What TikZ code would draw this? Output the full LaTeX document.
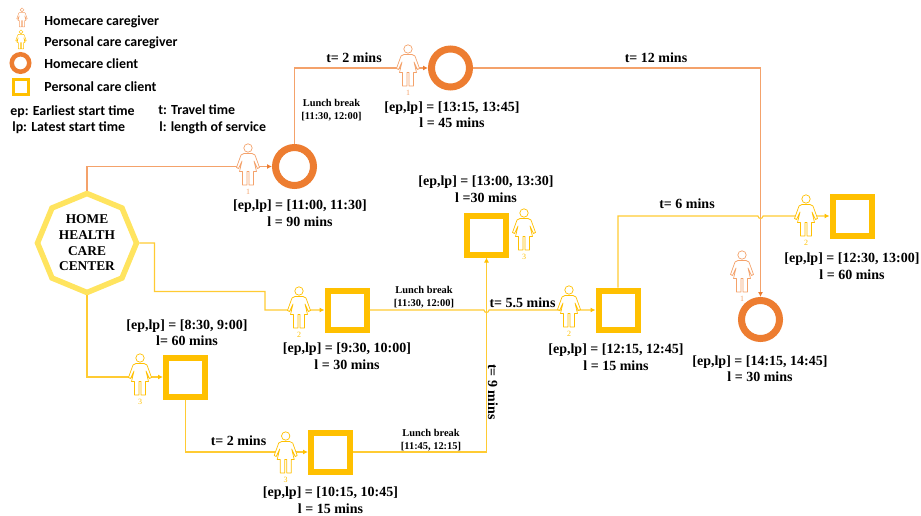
\documentclass[tikz,border=0pt]{standalone}
\usepackage{fontspec}
\setmainfont{Liberation Serif}
\newfontfamily\legendfont{Carlito}
\usetikzlibrary{arrows.meta, positioning, shapes.geometric}
\definecolor{homeorange}{HTML}{ED7D31}
\definecolor{homeline}{HTML}{F4A26B}
\definecolor{careyellow}{HTML}{FFC000}
\definecolor{careline}{HTML}{FFCB33}
\definecolor{centeryellow}{HTML}{FFE45F}
\tikzset{
  homeclient/.style={
    circle,
    draw=homeorange,
    fill=white,
    line width=7pt,
    inner sep=0pt,
    minimum size=38pt
  },
  careclient/.style={
    rectangle,
    draw=careyellow,
    fill=white,
    line width=6pt,
    inner sep=0pt,
    minimum size=39pt
  },
  centerbox/.style={
    regular polygon,
    regular polygon sides=8,
    shape border rotate=22.5,
    draw=centeryellow,
    line width=5.5pt,
    inner sep=0pt,
    minimum size=99pt,
    align=center,
    font=\fontsize{13.4}{15.7}\selectfont\bfseries
  },
  infolabel/.style={
    align=center,
    inner sep=0pt,
    font=\fontsize{14}{16.5}\selectfont\bfseries
  },
  travellabel/.style={
    inner sep=0pt,
    font=\fontsize{14}{16}\selectfont\bfseries
  },
  lunchlabel/.style={
    align=center,
    inner sep=0pt,
    font=\fontsize{10.4}{12.8}\selectfont\bfseries
  },
  legendlabel/.style={
    anchor=west,
    inner sep=0pt,
    font=\fontsize{13.9}{16}\selectfont\legendfont\bfseries
  },
  homeflow/.style={
    -{Latex[length=5pt,width=5pt,color=homeorange]},
    line width=1.1pt,
    draw=homeline
  },
  careflow/.style={
    -{Latex[length=5pt,width=5pt,color=careyellow]},
    line width=1.1pt,
    draw=careline
  },
  pics/caregiver/.style 2 args={
    code={
      \draw[draw=#1, fill=white] (0,-19) circle (4.2);
      \draw[draw=#1, fill=white, line join=round]
        (-4,-13.5) -- (-7,-12) -- (-11.5,0.5) -- (-9.5,1.5) -- (-6,-6) -- (-8.5,4.5)
        -- (-5.5,4.5) -- (-5.5,18) -- (-1,18) -- (-1,4.5) -- (1,4.5) -- (1,18)
        -- (5.5,18) -- (5.5,4.5) -- (8.5,4.5) -- (6,-6) -- (9.5,1.5) -- (11.5,0.5)
        -- (7,-12) -- (4,-13.5) -- cycle;
      \node[text=#1, inner sep=0pt, font=\fontsize{8}{9}\selectfont] (-num) at (0,25) {#2};
    }
  }
}

\begin{document}
\begin{tikzpicture}[x=1pt, y=-1pt, line width=0.7pt]

\useasboundingbox (0,0) rectangle (921,515);

% legend
\pic[scale=0.46, line width=0.45pt] (legendhome) at (22,18.6) {caregiver={homeline}{}};
\pic[scale=0.46, line width=0.45pt] (legendcare) at (21,40.5) {caregiver={careyellow}{}};
\node[homeclient, line width=4.5pt, minimum size=17.5pt] (legendcircle) at (20.5,63) {};
\node[careclient, line width=3pt, minimum size=15.5pt] (legendsquare) at (21,87) {};
\node[legendlabel] (legendA) at (44,21.5) {Homecare caregiver};
\node[legendlabel] (legendB) at (44,43) {Personal care caregiver};
\node[legendlabel] (legendC) at (44,64) {Homecare client};
\node[legendlabel] (legendD) at (44,86.5) {Personal care client};
\node[legendlabel] (legendE) at (10,111.5) {ep: Earliest start time};
\node[legendlabel] (legendF) at (12,128) {lp: Latest start time};
\node[legendlabel] (legendG) at (158,110) {t: Travel time};
\node[legendlabel] (legendH) at (159,128) {l: length of service};

% center and clients
\node[centerbox] (center) at (87,243) {HOME\\HEALTH\\CARE\\CENTER};
\node[homeclient] (hcA) at (294.5,166.5) {};
\node[homeclient] (hcB) at (450.5,68) {};
\node[homeclient] (hcC) at (760.5,319.5) {};
\node[careclient] (pcA) at (185.5,377) {};
\node[careclient] (pcB) at (347,310) {};
\node[careclient] (pcC) at (330.5,452) {};
\node[careclient] (pcD) at (486.5,235) {};
\node[careclient] (pcE) at (618,310) {};
\node[careclient] (pcF) at (852,216) {};

% connectors
\draw[homeflow] (center.north) |- (hcA.west);
\draw[homeflow] (hcA.north) |- (hcB.west);
\draw[homeflow] (hcB.east) -| (hcC.north);
\draw[careflow] (center.east) -- (154.5,243) |- (265,291.5) |- (pcB.west);
\draw[careflow] (center.south) |- (pcA.west);
\draw[careflow] (pcA.south) |- (pcC.west);
\draw[careflow] (pcC.east) -| (pcD.south);
\draw[careflow] (pcB.east) -- (484,310) arc[start angle=180, end angle=0, radius=2.5] -- (pcE.west);
\draw[careflow] (pcE.north) |- (758,216) arc[start angle=180, end angle=0, radius=2.5] -- (pcF.west);

% caregivers
\pic (cgA) at (248,167) {caregiver={homeline}{1}};
\pic (cgB) at (408,68) {caregiver={homeline}{1}};
\pic (cgC) at (742,274) {caregiver={homeline}{1}};
\pic (cgD) at (299,310) {caregiver={careyellow}{2}};
\pic (cgE) at (140,377) {caregiver={careyellow}{3}};
\pic (cgF) at (285.7,455) {caregiver={careyellow}{3}};
\pic (cgG) at (569,309) {caregiver={careyellow}{2}};
\pic (cgH) at (806,218) {caregiver={careyellow}{2}};
\pic (cgI) at (524,232) {caregiver={careyellow}{3}};

% info labels
\node[infolabel] (infoA) at (300,213) {[ep,lp] = [11:00, 11:30]\\l = 90 mins};
\node[infolabel] (infoB) at (452,114.5) {[ep,lp] = [13:15, 13:45]\\l = 45 mins};
\node[infolabel] (infoC) at (760,368.5) {[ep,lp] = [14:15, 14:45]\\l = 30 mins};
\node[infolabel] (infoD) at (187,332.5) {[ep,lp] = [8:30, 9:00]\\l= 60 mins};
\node[infolabel] (infoE) at (347,356) {[ep,lp] = [9:30, 10:00]\\l = 30 mins};
\node[infolabel] (infoF) at (330.5,500) {[ep,lp] = [10:15, 10:45]\\l = 15 mins};
\node[infolabel] (infoG) at (486,189) {[ep,lp] = [13:00, 13:30]\\l =30 mins};
\node[infolabel] (infoH) at (616,357) {[ep,lp] = [12:15, 12:45]\\l = 15 mins};
\node[infolabel] (infoI) at (852,266) {[ep,lp] = [12:30, 13:00]\\l = 60 mins};

% travel and lunch labels
\node[travellabel] (tA) at (354,58) {t= 2 mins};
\node[travellabel] (tB) at (656,58) {t= 12 mins};
\node[travellabel] (tC) at (687,204) {t= 6 mins};
\node[travellabel] (tD) at (522.5,303) {t= 5.5 mins};
\node[travellabel] (tE) at (238.5,441) {t= 2 mins};
\node[travellabel, rotate=-90] (tF) at (493,392) {t= 9 mins};
\node[lunchlabel] (lunchA) at (331.5,110) {Lunch break\\{}[11:30, 12:00]};
\node[lunchlabel] (lunchB) at (424,297.5) {Lunch break\\{}[11:30, 12:00]};
\node[lunchlabel] (lunchC) at (431,440.5) {Lunch break\\{}[11:45, 12:15]};

\end{tikzpicture}
\end{document}
